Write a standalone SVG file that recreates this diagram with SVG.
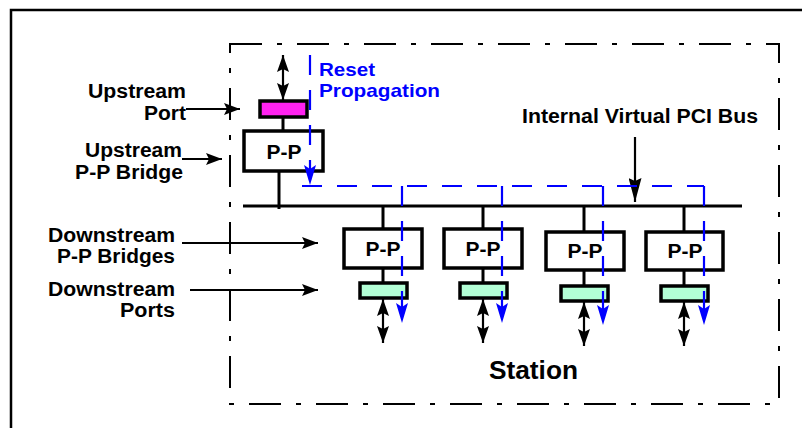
<svg xmlns="http://www.w3.org/2000/svg" width="802" height="428" viewBox="0 0 802 428">
<defs>
<style>
.lbl{font-family:"Liberation Sans",Arial,sans-serif;font-weight:bold;font-size:19.5px;fill:#000}
.pp{font-family:"Liberation Sans",Arial,sans-serif;font-weight:bold;font-size:19.5px;fill:#000;text-anchor:middle}
.blue{fill:#0000ff;font-size:18.5px}
.blk{stroke:#000;stroke-width:3;fill:none}
.box{stroke:#000;stroke-width:3.5;fill:#fff}
.port{stroke:#000;stroke-width:3.5;fill:#b3ffd6}
.up{stroke:#000;stroke-width:3.5;fill:#ff22f0}
.ar{stroke:#000;stroke-width:2.2;fill:none}
.rst{stroke:#0000ff;stroke-width:2.2;fill:none;stroke-dasharray:20 15}
</style>
<marker id="ah" viewBox="0 0 16 12" refX="16" refY="6" markerWidth="16" markerHeight="12" markerUnits="userSpaceOnUse" orient="auto"><path d="M0,0 L16,6 L0,12 L3,6 Z" fill="#000"/></marker>
<marker id="ahb" viewBox="0 0 20 12" refX="20" refY="6" markerWidth="20" markerHeight="12" markerUnits="userSpaceOnUse" orient="auto"><path d="M0,0 L20,6 L0,12 L4,6 Z" fill="#0000ff"/></marker>
<marker id="ahd" viewBox="0 0 17 12" refX="17" refY="6" markerWidth="17" markerHeight="12" markerUnits="userSpaceOnUse" orient="auto-start-reverse"><path d="M0,0 L17,6 L0,12 L3,6 Z" fill="#000"/></marker>
<marker id="ahp" viewBox="0 0 24 13" refX="24" refY="6.5" markerWidth="24" markerHeight="13" markerUnits="userSpaceOnUse" orient="auto"><path d="M0,0 L24,6.5 L0,13 L3,6.5 Z" fill="#000"/></marker>
</defs>
<rect width="802" height="428" fill="#fff"/>
<path d="M11,428 V10 H802" stroke="#000" stroke-width="2.5" fill="none"/>
<g id="station">
<rect x="230" y="44" width="549" height="360" fill="none" stroke="#000" stroke-width="2" stroke-dasharray="32 15 5 15"/>
<text class="lbl" x="489" y="379" style="font-size:25px" textLength="89" lengthAdjust="spacingAndGlyphs">Station</text>
</g>
<g id="labels">
<text class="lbl" text-anchor="end" x="186" y="98" textLength="98" lengthAdjust="spacingAndGlyphs">Upstream</text>
<text class="lbl" text-anchor="end" x="186" y="120" textLength="42" lengthAdjust="spacingAndGlyphs">Port</text>
<text class="lbl" text-anchor="end" x="182" y="157" textLength="97" lengthAdjust="spacingAndGlyphs">Upstream</text>
<text class="lbl" text-anchor="end" x="183" y="179" textLength="108" lengthAdjust="spacingAndGlyphs">P-P Bridge</text>
<text class="lbl" text-anchor="end" x="175" y="242" textLength="127" lengthAdjust="spacingAndGlyphs">Downstream</text>
<text class="lbl" text-anchor="end" x="175" y="263" textLength="118" lengthAdjust="spacingAndGlyphs">P-P Bridges</text>
<text class="lbl" text-anchor="end" x="175" y="296" textLength="127" lengthAdjust="spacingAndGlyphs">Downstream</text>
<text class="lbl" text-anchor="end" x="175" y="317" textLength="55" lengthAdjust="spacingAndGlyphs">Ports</text>
<text class="lbl" x="522" y="123" textLength="236" lengthAdjust="spacingAndGlyphs">Internal Virtual PCI Bus</text>
<text class="lbl blue" x="319" y="76" textLength="56" lengthAdjust="spacingAndGlyphs">Reset</text>
<text class="lbl blue" x="319" y="97" textLength="121" lengthAdjust="spacingAndGlyphs">Propagation</text>
</g>
<g id="bus">
<line x1="243" y1="206" x2="742" y2="206" class="blk"/>
</g>
<g id="upstream-port"><rect x="260" y="101" width="47" height="16" class="up"/></g>
<g id="upstream-bridge"><rect x="244" y="131" width="79" height="40" class="box"/><text class="pp" x="284" y="159" textLength="35" lengthAdjust="spacingAndGlyphs">P-P</text></g>
<g id="ds-bridge-1"><rect x="344" y="229" width="78" height="39" class="box"/><text class="pp" x="383" y="256" textLength="35" lengthAdjust="spacingAndGlyphs">P-P</text></g>
<g id="ds-bridge-2"><rect x="444" y="229" width="78" height="39" class="box"/><text class="pp" x="483" y="256" textLength="35" lengthAdjust="spacingAndGlyphs">P-P</text></g>
<g id="ds-bridge-3"><rect x="546" y="232" width="78" height="38" class="box"/><text class="pp" x="585" y="258" textLength="35" lengthAdjust="spacingAndGlyphs">P-P</text></g>
<g id="ds-bridge-4"><rect x="646" y="232" width="77" height="38" class="box"/><text class="pp" x="685" y="258" textLength="35" lengthAdjust="spacingAndGlyphs">P-P</text></g>
<g id="ds-port-1"><rect x="360" y="283" width="47" height="15" class="port"/></g>
<g id="ds-port-2"><rect x="460" y="283" width="47" height="15" class="port"/></g>
<g id="ds-port-3"><rect x="561" y="286" width="47" height="15" class="port"/></g>
<g id="ds-port-4"><rect x="661" y="286" width="47" height="15" class="port"/></g>
<g id="connectors">
<line x1="283" y1="117" x2="283" y2="131" class="blk"/>
<line x1="279" y1="171" x2="279" y2="209" class="blk"/>
<line x1="383" y1="206" x2="383" y2="229" class="blk"/>
<line x1="483" y1="206" x2="483" y2="229" class="blk"/>
<line x1="584" y1="206" x2="584" y2="232" class="blk"/>
<line x1="684" y1="206" x2="684" y2="232" class="blk"/>
<line x1="383" y1="268" x2="383" y2="283" class="blk"/>
<line x1="483" y1="268" x2="483" y2="283" class="blk"/>
<line x1="584" y1="270" x2="584" y2="286" class="blk"/>
<line x1="684" y1="270" x2="684" y2="286" class="blk"/>
<line x1="283" y1="55" x2="283" y2="100" class="ar" marker-start="url(#ahd)" marker-end="url(#ahd)"/>
<line x1="383" y1="299" x2="383" y2="343" class="ar" marker-start="url(#ahd)" marker-end="url(#ahd)"/>
<line x1="483" y1="299" x2="483" y2="343" class="ar" marker-start="url(#ahd)" marker-end="url(#ahd)"/>
<line x1="584" y1="302" x2="584" y2="346" class="ar" marker-start="url(#ahd)" marker-end="url(#ahd)"/>
<line x1="684" y1="302" x2="684" y2="346" class="ar" marker-start="url(#ahd)" marker-end="url(#ahd)"/>
<line x1="186" y1="109" x2="240" y2="109" class="ar" marker-end="url(#ah)"/>
<line x1="182" y1="159" x2="222" y2="159" class="ar" marker-end="url(#ah)"/>
<line x1="182" y1="243" x2="318" y2="243" class="ar" marker-end="url(#ah)"/>
<line x1="190" y1="290" x2="318" y2="290" class="ar" marker-end="url(#ah)"/>
<line x1="635" y1="137" x2="635" y2="202" class="ar" stroke-width="3" marker-end="url(#ahp)"/>
<line x1="310" y1="55" x2="310" y2="185" class="rst" marker-end="url(#ahb)"/>
<path d="M302,186 H704" class="rst"/>
<line x1="402" y1="186" x2="402" y2="323" class="rst" marker-end="url(#ahb)"/>
<line x1="502" y1="186" x2="502" y2="323" class="rst" marker-end="url(#ahb)"/>
<line x1="603" y1="186" x2="603" y2="325" class="rst" marker-end="url(#ahb)"/>
<line x1="704" y1="186" x2="704" y2="325" class="rst" marker-end="url(#ahb)"/>
</g>
</svg>
